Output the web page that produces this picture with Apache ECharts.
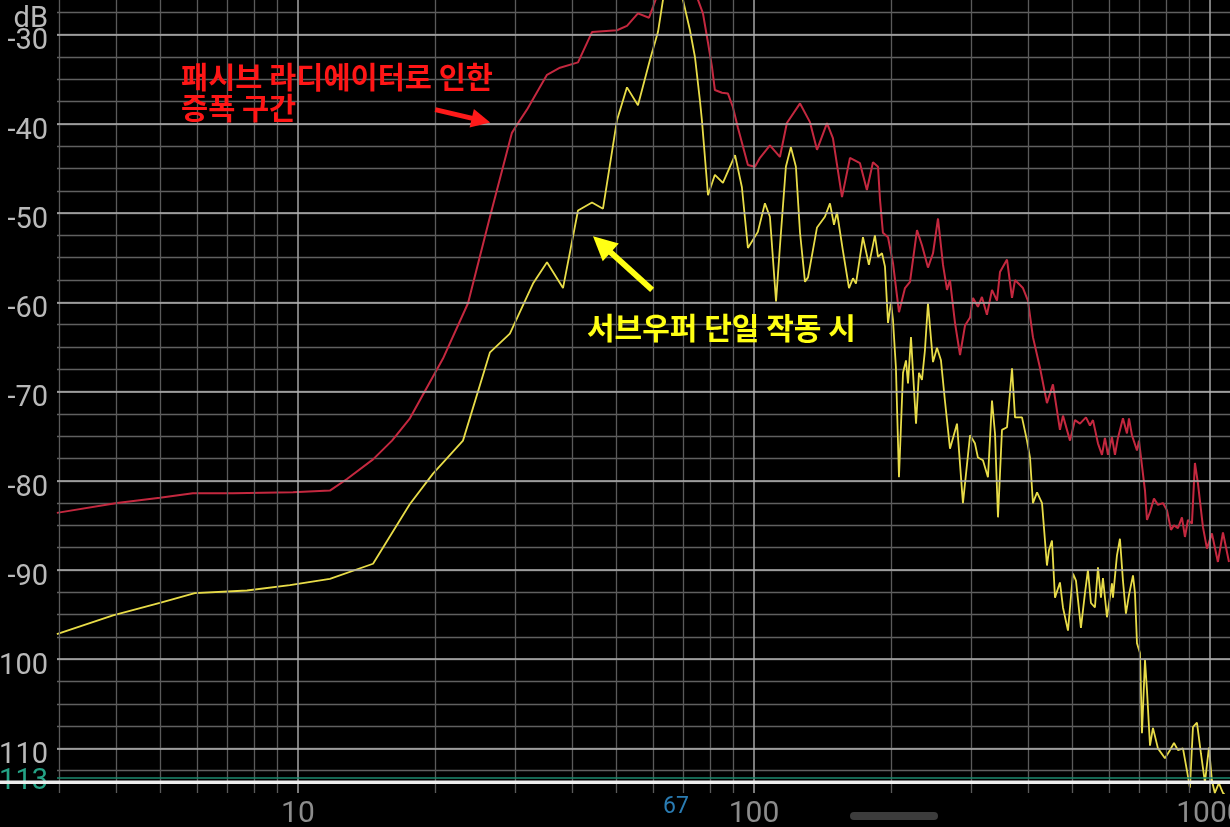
<!DOCTYPE html>
<html>
<head>
<meta charset="utf-8">
<title>주파수 응답</title>
<script src="https://cdn.jsdelivr.net/npm/echarts@6.0.0/dist/echarts.min.js"></script>
<style>
  html, body { margin: 0; padding: 0; background: #000; }
  #chart { width: 1230px; height: 827px; }
</style>
</head>
<body>
<div id="chart"></div>
<script>
  // 패시브 라디에이터 포함 (빨강)
  var redFreq = [2.96, 4.01, 4.98, 5.88, 7.20, 9.75, 11.75, 12.81, 14.61, 16.08, 17.60, 20.80, 23.60, 26.37, 29.46, 30.22, 31.78, 35.17, 37.55, 41.13,
    44.14, 50.07, 52.67, 55.67, 58.86, 60.05, 62.85, 67.45, 72.39, 75.4, 77.3, 79.3, 80.9, 82.1, 85.1, 87.7, 89.9, 92.2, 97.0, 100.5,
    103.1, 108.4, 114.0, 118.1, 126.2, 132.7, 137.5, 144.6, 149.0, 156.0, 162.4, 170.8, 176.9, 182.4, 187.1, 189.0, 191.8, 196.8, 201.8, 208.0,
    214.4, 219.9, 227.8, 233.6, 240.8, 247.0, 253.3, 259.8, 265.1, 269.1, 276.0, 283.1, 290.3, 297.8, 302.3, 309.9, 316.2, 324.3, 332.7, 341.2,
    346.4, 358.9, 368.1, 373.7, 389.0, 398.9, 409.1, 423.8, 439.1, 452.6, 468.9, 476.1, 493.3, 505.8, 518.7, 534.7, 545.6, 554.0, 568.1, 579.7,
    588.5, 597.5, 609.7, 619.0, 628.4, 644.5, 657.7, 664.4, 674.5, 691.8, 698.8, 720.4, 727.7, 738.8, 753.8, 769.1, 788.9, 804.9, 821.3, 833.9,
    850.8, 868.2, 881.5, 895.0, 913.1, 927.0, 941.2, 965.4, 985.1, 1010, 1041, 1068, 1101];
  var redDb = [-83.6, -82.5, -81.9, -81.4, -81.4, -81.3, -81.1, -79.8, -77.6, -75.5, -73.0, -66.3, -60.1, -50.4, -41.0, -40.1, -38.4, -34.5, -33.7, -33.1,
    -29.7, -29.5, -29.0, -27.6, -28.1, -26.9, -24.1, -22.2, -24.4, -26.1, -27.6, -30.9, -33.6, -36.2, -36.5, -36.6, -38.1, -40.4, -44.6, -44.8,
    -43.8, -42.4, -43.7, -39.9, -37.7, -39.8, -42.9, -39.9, -41.6, -48.2, -43.8, -44.4, -47.4, -44.3, -44.8, -48.5, -52.2, -52.7, -55.6, -61.1,
    -58.4, -57.7, -51.9, -53.6, -56.1, -54.5, -50.6, -55.8, -58.6, -57.5, -62.3, -65.9, -62.6, -61.7, -59.5, -60.5, -59.4, -61.4, -58.6, -59.8,
    -56.6, -55.2, -59.5, -57.5, -58.4, -59.8, -63.9, -67.3, -71.3, -69.2, -74.3, -72.7, -75.5, -73.2, -73.6, -72.9, -73.8, -73.2, -75.8, -77.1,
    -75.2, -77.1, -75.1, -77.1, -75.2, -73.0, -74.7, -73.0, -74.9, -76.6, -75.5, -81.1, -84.4, -83.5, -82.0, -82.7, -82.5, -83.3, -85.5, -85.0,
    -85.3, -84.1, -86.3, -84.4, -84.8, -78.0, -80.3, -85.2, -87.6, -85.9, -89.1, -85.8, -89.1];

  // 서브우퍼 단독 (노랑)
  var yellowFreq = [2.96, 3.93, 4.98, 5.94, 7.73, 9.60, 11.75, 14.61, 17.60, 19.78, 23.01, 26.37, 29.16, 32.77, 35.17, 38.13, 41.13, 44.14, 46.66, 50.07,
    52.67, 55.67, 59.16, 61.59, 63.17, 67.45, 69.88, 72.39, 74.24, 76.1, 76.9, 79.3, 82.1, 85.5, 90.9, 94.1, 97.0, 102.0, 105.7, 108.4,
    111.8, 114.0, 117.5, 120.5, 123.6, 126.2, 129.4, 131.4, 137.5, 143.1, 146.8, 149.8, 152.1, 156.7, 161.6, 164.9, 167.4, 173.4, 178.7, 184.2,
    187.1, 190.9, 193.8, 196.8, 199.8, 201.8, 204.8, 208.0, 212.3, 215.5, 217.7, 221.0, 223.3, 226.7, 230.1, 233.6, 237.1, 240.8, 247.0, 252.0,
    257.1, 262.3, 269.1, 278.8, 287.3, 297.8, 305.2, 309.9, 317.8, 326.0, 332.7, 337.8, 342.9, 349.9, 358.9, 368.1, 373.7, 387.1, 397.0, 403.1,
    409.1, 417.7, 428.3, 439.1, 443.6, 450.4, 457.3, 468.9, 476.1, 488.3, 500.8, 508.4, 521.3, 532.0, 540.1, 548.3, 559.5, 568.1, 576.8, 582.6,
    594.5, 609.7, 612.8, 625.2, 634.8, 644.5, 654.3, 664.4, 678.0, 684.9, 691.8, 702.4, 709.5, 720.4, 727.7, 738.8, 749.9, 769.1, 796.8, 817.2,
    833.9, 850.8, 872.6, 890.4, 904.0, 917.8, 936.5, 955.7, 975.0, 995.0, 1010, 1025, 1046, 1068, 1107];
  var yellowDb = [-97.2, -95.1, -93.7, -92.6, -92.3, -91.7, -91.0, -89.3, -82.6, -79.2, -75.5, -65.6, -63.5, -57.9, -55.5, -58.4, -49.7, -48.8, -49.5, -39.6,
    -35.9, -37.9, -32.8, -29.7, -26.1, -24.5, -26.1, -29.5, -32.5, -37.3, -39.6, -48.0, -45.7, -46.6, -43.5, -47.1, -53.9, -52.1, -48.9, -50.4,
    -59.9, -53.8, -44.8, -42.6, -44.8, -52.2, -57.7, -57.2, -51.6, -50.4, -48.9, -51.3, -49.9, -54.2, -58.4, -57.3, -57.9, -52.7, -55.8, -52.5,
    -54.9, -54.5, -56.0, -62.3, -60.0, -62.0, -67.3, -79.6, -67.9, -66.5, -69.1, -63.9, -67.9, -73.6, -67.9, -68.7, -65.4, -60.1, -66.7, -65.1,
    -66.5, -71.0, -76.4, -73.6, -82.5, -74.9, -75.8, -77.4, -77.7, -79.6, -71.0, -74.7, -84.1, -74.3, -74.0, -67.4, -72.9, -72.9, -75.5, -77.4,
    -82.5, -81.3, -82.5, -89.5, -87.8, -86.7, -93.1, -91.4, -94.2, -96.8, -90.4, -91.2, -96.5, -92.6, -90.0, -93.7, -94.2, -89.7, -93.1, -90.9,
    -95.3, -91.5, -93.1, -88.4, -86.5, -91.2, -94.9, -92.8, -90.6, -92.6, -98.2, -99.3, -108.3, -100.1, -103.5, -109.7, -107.7, -110.0, -111.1, -110.2,
    -109.4, -110.2, -110.0, -112.5, -114.4, -107.6, -107.1, -110.6, -113.8, -109.9, -113.6, -115.0, -113.9, -115.0, -115.8];

  // 격자선 위치
  var minorFreqs = [3, 4, 5, 6, 7, 8, 9, 20, 30, 40, 50, 60, 70, 80, 90, 200, 300, 400, 500, 600, 700, 800, 900];
  var majorFreqs = [10, 100, 1000];
  var majorDb = [-30, -40, -50, -60, -70, -80, -90, -100, -110];
  var floorDb = -113.3;

  // 주석 화살표 (시작점, 끝점) [Hz, dB]
  var redArrow = [[20.0, -38.4], [25.2, -39.6]];
  var yellowArrow = [[59.8, -58.6], [46.4, -53.5]];

  function zip(xs, ys) {
    var out = [];
    for (var i = 0; i < xs.length; i++) out.push([xs[i], ys[i]]);
    return out;
  }

  var chart = echarts.init(document.getElementById('chart'), null, { renderer: 'canvas' });

  var gridLines = [];
  minorFreqs.forEach(function (f) {
    gridLines.push({ xAxis: f, lineStyle: { color: '#5a5a5a', width: 1.3, type: 'solid' } });
  });
  majorFreqs.forEach(function (f) {
    gridLines.push({ xAxis: f, lineStyle: { color: '#9c9c9c', width: 1.6, type: 'solid' } });
  });
  majorDb.forEach(function (d) {
    gridLines.push({ yAxis: d, lineStyle: { color: '#b0b0b0', width: 1.6, type: 'solid' } });
  });
  gridLines.push({
    yAxis: floorDb,
    lineStyle: { color: '#1b8a6e', width: 1.6, type: 'solid' },
    label: {
      show: true, position: 'start', formatter: '-113', distance: 9,
      color: '#24a285', fontSize: 29, fontFamily: 'Roboto', verticalAlign: 'top', lineHeight: 8
    }
  });

  var option = {
    backgroundColor: '#000',
    animation: false,
    grid: { left: 57, right: 0, top: 0, bottom: 34, containLabel: false, outerBoundsMode: 'none' },
    xAxis: {
      type: 'log',
      logBase: 10,
      min: 2.962,
      max: 1106.6,
      axisLine: { show: false },
      axisTick: { show: false },
      splitLine: { show: false },
      axisLabel: {
        color: '#8c8c8c', fontSize: 30, fontFamily: 'Roboto', margin: 6,
        showMinLabel: false, showMaxLabel: false,
        formatter: function (v) { return String(Math.round(v)); }
      }
    },
    yAxis: {
      type: 'value',
      min: -115,
      max: -26.108,
      interval: 2.5,
      axisLine: { show: false },
      axisTick: { show: false },
      splitLine: { show: true, showMinLine: false, showMaxLine: false, lineStyle: { color: '#606060', width: 1.3 } },
      axisLabel: {
        color: '#b9b9b9', fontSize: 29, fontFamily: 'Roboto', margin: 9,
        verticalAlign: 'top', lineHeight: 15,
        formatter: function (v) {
          return Math.abs(v % 10) < 1e-6 ? String(Math.round(v)) : '';
        }
      }
    },
    series: [
      {
        // 격자
        type: 'line', data: [], z: 1, silent: true, symbol: 'none',
        markLine: { silent: true, symbol: ['none', 'none'], label: { show: false }, animation: false, data: gridLines }
      },
      {
        name: '패시브 라디에이터', type: 'line', z: 3, data: zip(redFreq, redDb),
        showSymbol: false, symbol: 'none', lineStyle: { color: '#c4283f', width: 2 }
      },
      {
        name: '서브우퍼 단일', type: 'line', z: 4, data: zip(yellowFreq, yellowDb),
        showSymbol: false, symbol: 'none', lineStyle: { color: '#e8dc48', width: 1.8 }
      },
      {
        // 빨간 화살표
        type: 'line', data: [], z: 6, silent: true, symbol: 'none',
        markLine: {
          silent: true, animation: false, symbol: ['none', 'triangle'], symbolSize: 19,
          label: { show: false },
          lineStyle: { color: '#ff1a1a', width: 5, type: 'solid' },
          itemStyle: { color: '#ff1a1a' },
          data: [[{ coord: redArrow[0] }, { coord: redArrow[1] }]]
        }
      },
      {
        // 노란 화살표
        type: 'line', data: [], z: 6, silent: true, symbol: 'none',
        markLine: {
          silent: true, animation: false, symbol: ['none', 'triangle'], symbolSize: 24,
          label: { show: false },
          lineStyle: { color: '#ffff14', width: 6, type: 'solid' },
          itemStyle: { color: '#ffff14' },
          data: [[{ coord: yellowArrow[0] }, { coord: yellowArrow[1] }]]
        }
      }
    ],
    graphic: [
      {
        type: 'text', left: 181, top: 61, z: 10,
        style: { text: '패시브 라디에이터로 인한\n증폭 구간', fill: '#ff1616', font: 'bold 29.5px "Noto Sans CJK KR"', lineHeight: 31 }
      },
      {
        type: 'text', left: 587, top: 313, z: 10,
        style: { text: '서브우퍼 단일 작동 시', fill: '#ffff14', font: 'bold 30px "Noto Sans CJK KR"' }
      },
      {
        type: 'text', x: 48, y: 20, z: 10,
        style: { text: 'dB', fill: '#b9b9b9', font: '29px Roboto', align: 'right', verticalAlign: 'middle' }
      },
      {
        type: 'text', x: 676, y: 807, z: 10,
        style: { text: '67', fill: '#2a7cb3', font: '23px Roboto', align: 'center', verticalAlign: 'middle' }
      },
      {
        // 하단 흰 선
        type: 'rect', z: 20, silent: true,
        shape: { x: 0, y: 780.5, width: 1230, height: 3.5 },
        style: { fill: '#ececec' }
      },
      {
        type: 'rect', z: 10, silent: true,
        shape: { x: 850, y: 812, width: 88, height: 8, r: 4 },
        style: { fill: '#3c3c3c' }
      }
    ]
  };

  chart.setOption(option);
  window.addEventListener('resize', function () { chart.resize(); });
</script>
</body>
</html>
